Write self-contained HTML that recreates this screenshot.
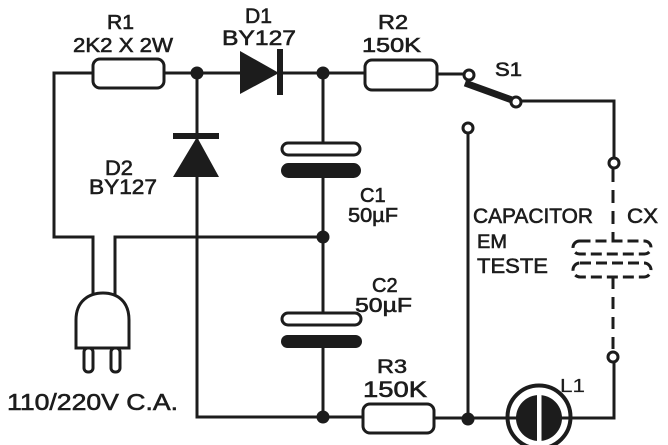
<!DOCTYPE html>
<html>
<head>
<meta charset="utf-8">
<style>
  html,body{margin:0;padding:0;background:#fff;}
  svg{display:block;}
  text{font-family:"Liberation Sans",sans-serif;fill:#1c1c1c;stroke:#1c1c1c;stroke-width:0.6px;}
</style>
</head>
<body>
<svg width="668" height="445" viewBox="0 0 668 445" xmlns="http://www.w3.org/2000/svg">
  <rect width="668" height="445" fill="#fff"/>
  <g stroke="#1c1c1c" stroke-width="3" fill="none" stroke-linecap="square">
    <path d="M54,73 H93"/>
    <path d="M164,73 H242"/>
    <path d="M282,73 H365"/>
    <path d="M437,74 H464"/>
    <path d="M54,73 V237 H93 V294"/>
    <path d="M115,294 V237 H323"/>
    <path d="M197,73 V417 H363"/>
    <path d="M323,73 V143"/>
    <path d="M323,178 V313"/>
    <path d="M323,348 V417"/>
    <path d="M521,101 H614 V158"/>
    <path d="M468,133 V419"/>
    <path d="M434,418 H614 V362"/>
  </g>

  <rect x="93" y="59" width="71" height="29" rx="7" fill="#fff" stroke="#1c1c1c" stroke-width="3"/>
  <rect x="365" y="60" width="72" height="30" rx="7" fill="#fff" stroke="#1c1c1c" stroke-width="3"/>
  <rect x="363" y="404" width="71" height="29" rx="7" fill="#fff" stroke="#1c1c1c" stroke-width="3"/>

  <polygon points="240,51 240,94 279,73" fill="#1c1c1c"/>
  <rect x="277" y="49" width="6" height="46" fill="#1c1c1c"/>
  <polygon points="197,137 173,177 219,177" fill="#1c1c1c"/>
  <rect x="173" y="133" width="46" height="6" fill="#1c1c1c"/>

  <rect x="282" y="143" width="78" height="12" rx="6" fill="#fff" stroke="#1c1c1c" stroke-width="3"/>
  <rect x="281" y="163" width="80" height="15" rx="7.5" fill="#1c1c1c"/>
  <rect x="282" y="313" width="79" height="12" rx="6" fill="#fff" stroke="#1c1c1c" stroke-width="3"/>
  <rect x="281" y="335" width="81" height="13" rx="6.5" fill="#1c1c1c"/>

  <g fill="#1c1c1c">
    <circle cx="197" cy="73" r="6.5"/>
    <circle cx="323" cy="73" r="6.5"/>
    <circle cx="323" cy="237" r="6.5"/>
    <circle cx="323" cy="417" r="6.5"/>
    <circle cx="468" cy="419" r="6.5"/>
  </g>

  <line x1="465" y1="83" x2="512" y2="100" stroke="#1c1c1c" stroke-width="7"/>
  <g fill="#fff" stroke="#1c1c1c" stroke-width="3">
    <circle cx="469" cy="75" r="5"/>
    <circle cx="516" cy="102" r="5"/>
    <circle cx="468" cy="128" r="5"/>
    <circle cx="614" cy="163" r="5"/>
    <circle cx="613" cy="357" r="5"/>
  </g>

  <g stroke="#1c1c1c" stroke-width="3" fill="none">
    <path d="M613,169 V241" stroke-dasharray="13 8"/>
    <path d="M613,277 V352" stroke-dasharray="12 8"/>
    <rect x="573" y="241" width="78" height="13" rx="6.5" stroke-dasharray="11 5"/>
    <rect x="573" y="263" width="78" height="14" rx="7" stroke-dasharray="11 5"/>
  </g>

  <circle cx="539" cy="417" r="31.5" fill="none" stroke="#1c1c1c" stroke-width="4"/>
  <circle cx="539" cy="418" r="23" fill="#1c1c1c"/>
  <rect x="537" y="393" width="4.5" height="50" fill="#fff"/>

  <path d="M76,348 V320 C76,301 89,293 103,293 C117,293 129,301 129,320 V348 Z" fill="#fff" stroke="#1c1c1c" stroke-width="3"/>
  <rect x="84" y="348" width="9" height="24" rx="4" fill="#fff" stroke="#1c1c1c" stroke-width="3"/>
  <rect x="111" y="348" width="9" height="24" rx="4" fill="#fff" stroke="#1c1c1c" stroke-width="3"/>

  <text x="107" y="29" font-size="20" textLength="27" lengthAdjust="spacingAndGlyphs">R1</text>
  <text x="73" y="52" font-size="20" textLength="100" lengthAdjust="spacingAndGlyphs">2K2 X 2W</text>
  <text x="245" y="23" font-size="21" textLength="27" lengthAdjust="spacingAndGlyphs">D1</text>
  <text x="222" y="45" font-size="21" textLength="74" lengthAdjust="spacingAndGlyphs">BY127</text>
  <text x="105" y="175" font-size="21" textLength="28" lengthAdjust="spacingAndGlyphs">D2</text>
  <text x="89" y="194" font-size="21" textLength="68" lengthAdjust="spacingAndGlyphs">BY127</text>
  <text x="378" y="29" font-size="20" textLength="30" lengthAdjust="spacingAndGlyphs">R2</text>
  <text x="362" y="52" font-size="20" textLength="59" lengthAdjust="spacingAndGlyphs">150K</text>
  <text x="495" y="76" font-size="19" textLength="27" lengthAdjust="spacingAndGlyphs">S1</text>
  <text x="360" y="202" font-size="20">C1</text>
  <text x="348" y="222" font-size="20" textLength="50" lengthAdjust="spacingAndGlyphs">50µF</text>
  <text x="473" y="223" font-size="21" textLength="120" lengthAdjust="spacingAndGlyphs">CAPACITOR</text>
  <text x="627" y="223" font-size="21" textLength="31" lengthAdjust="spacingAndGlyphs">CX</text>
  <text x="477" y="248" font-size="19" textLength="30" lengthAdjust="spacingAndGlyphs">EM</text>
  <text x="477" y="273" font-size="21" textLength="71" lengthAdjust="spacingAndGlyphs">TESTE</text>
  <text x="372" y="292" font-size="20">C2</text>
  <text x="355" y="312" font-size="20" textLength="57" lengthAdjust="spacingAndGlyphs">50µF</text>
  <text x="377" y="373" font-size="19" textLength="30" lengthAdjust="spacingAndGlyphs">R3</text>
  <text x="363" y="397" font-size="22" textLength="64" lengthAdjust="spacingAndGlyphs">150K</text>
  <text x="560" y="392" font-size="18" textLength="25" lengthAdjust="spacingAndGlyphs" style="stroke-width:0.2px">L1</text>
  <text x="7" y="410" font-size="23" textLength="171" lengthAdjust="spacingAndGlyphs">110/220V C.A.</text>
</svg>
</body>
</html>
